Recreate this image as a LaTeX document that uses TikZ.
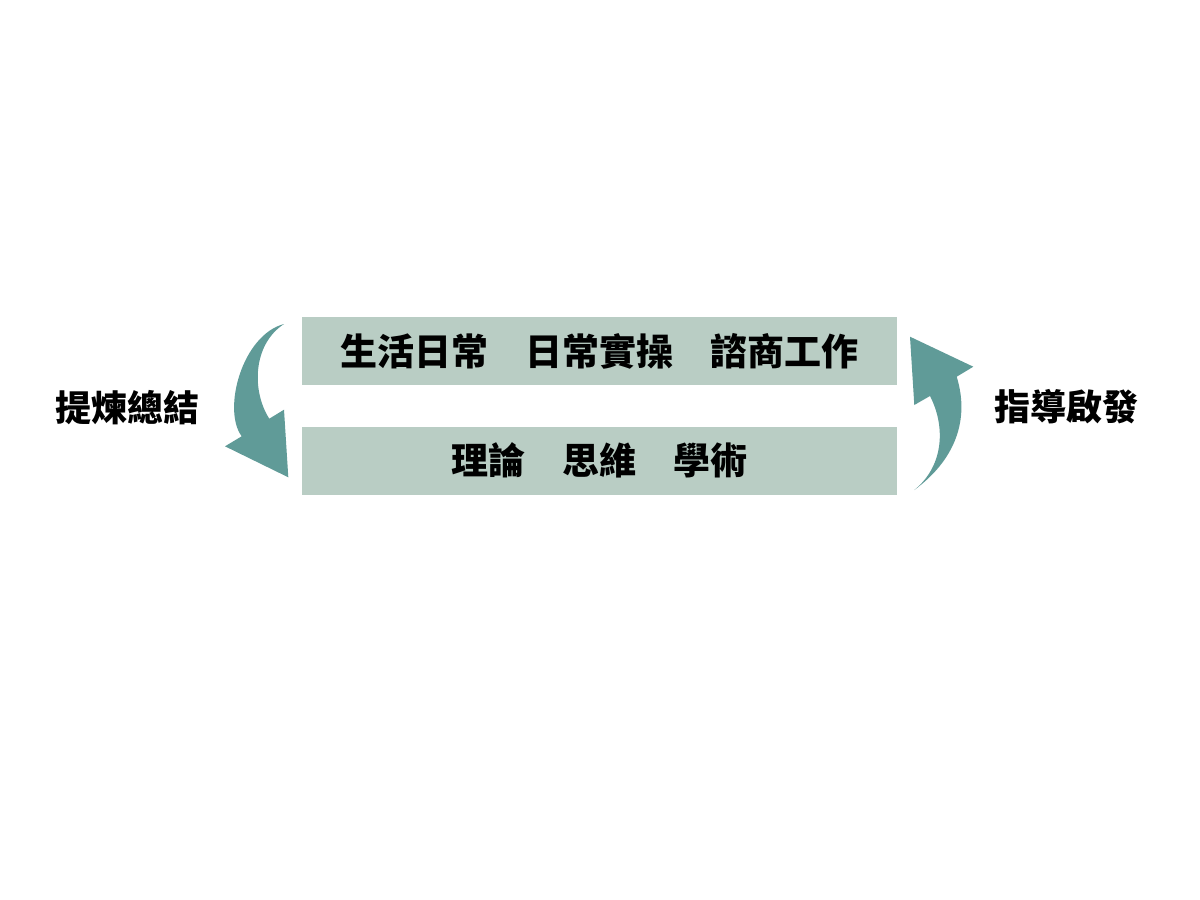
\documentclass[tikz,border=0pt]{standalone}
\usepackage{fontspec}
\newfontfamily\cjk{Noto Sans CJK TC}
\definecolor{boxfill}{RGB}{185,205,196}
\definecolor{arrowteal}{RGB}{96,155,152}
\begin{document}
\begin{tikzpicture}[x=1pt,y=-1pt,
  bandbox/.style={fill=boxfill,draw=none,minimum width=595pt,minimum height=68pt,inner sep=0pt,
    font=\cjk\bfseries\fontsize{37}{44}\selectfont},
  sidelabel/.style={inner sep=0pt,font=\cjk\bfseries\fontsize{36}{44}\selectfont},
  bentarrow/.style={fill=arrowteal,draw=none}]
\useasboundingbox[fill=white] (0,0) rectangle (1200,900);
\node[bandbox] (top) at (599.5,351) {生活日常　日常實操　諮商工作};
\node[bandbox] (bottom) at (599.5,460.5) {理論　思維　學術};
\node[sidelabel] (left) at (127.5,407.5) {提煉總結};
\node[sidelabel] (right) at (1066,407) {指導啟發};
% left curved arrow (down)
\fill[bentarrow] (284,324) .. controls (242,335) and (222,410) .. (241.7,436.3)
  -- (225,446.3) -- (288.3,477.3) -- (284,409.7) -- (269.3,418.7)
  .. controls (252,392) and (252,345) .. (284,324) -- cycle;
% right curved arrow (up)
\fill[bentarrow] (914.3,490) .. controls (955,460) and (970,420) .. (956.7,376.7)
  -- (973.3,366.7) -- (910,336.7) -- (914.3,405) -- (930,396)
  .. controls (945,425) and (945,465) .. (914.3,490) -- cycle;
\end{tikzpicture}
\end{document}
